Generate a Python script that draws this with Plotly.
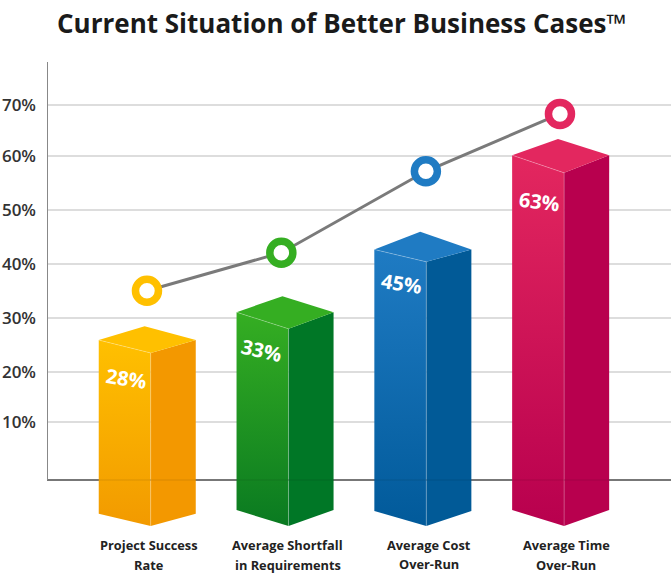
import plotly.graph_objects as go

categories = ["Project Success<br>Rate", "Average Shortfall<br>in Requirements",
              "Average Cost<br>Over-Run", "Average Time<br>Over-Run"]
bar_labels = ["28%", "33%", "45%", "63%"]

# heights, for the corners of each 3D bar
back_top = [28.7, 34.3, 46.3, 63.6]
side_top = [26.1, 31.3, 43.0, 60.6]
front_top = [23.7, 28.2, 40.7, 57.3]
side_bottom = [-6.3, -5.6, -5.8, -5.6]
front_bottom = [-8.6, -8.6, -8.6, -8.6]

line_pos = [-0.027, 0.948, 1.997, 2.97]
line_values = [35.3, 42.4, 57.6, 68.3]

tick_values = [10.8, 20.1, 30.2, 40.3, 50.4, 60.4, 70]
tick_labels = ["10%", "20%", "30%", "40%", "50%", "60%", "70%"]

top_colors = ["#FFC000", "#35AE22", "#1F7BC3", "#E3275F"]
front_bottom_colors = ["#F29A00", "#0A7A21", "#015A9A", "#B8004E"]
side_colors = ["#F39800", "#007726", "#015A97", "#B8004E"]

LEFT, RIGHT, BACK = -0.377, 0.327, -0.044

fig = go.Figure()

for i in range(len(categories)):
    # front face
    fig.add_trace(go.Scatter(
        x=[i + LEFT, i, i, i + LEFT, i + LEFT],
        y=[side_top[i], front_top[i], front_bottom[i], side_bottom[i], side_top[i]],
        mode="lines", line=dict(width=0), fill="toself",
        fillgradient=dict(type="vertical",
                          colorscale=[[0, front_bottom_colors[i]], [1, top_colors[i]]]),
        hoverinfo="skip", showlegend=False))
    # right face
    fig.add_trace(go.Scatter(
        x=[i, i + RIGHT, i + RIGHT, i, i],
        y=[front_top[i], side_top[i], side_bottom[i], front_bottom[i], front_top[i]],
        mode="lines", line=dict(width=0), fill="toself", fillcolor=side_colors[i],
        hoverinfo="skip", showlegend=False))
    # top face
    fig.add_trace(go.Scatter(
        x=[i + LEFT, i + BACK, i + RIGHT, i, i + LEFT],
        y=[side_top[i], back_top[i], side_top[i], front_top[i], side_top[i]],
        mode="lines", line=dict(width=0), fill="toself", fillcolor=top_colors[i],
        hoverinfo="skip", showlegend=False))
    # pale seams
    fig.add_trace(go.Scatter(
        x=[i + LEFT, i, i],
        y=[side_top[i], front_top[i], front_bottom[i]],
        mode="lines", line=dict(width=1, color="rgba(255,255,255,0.25)"),
        hoverinfo="skip", showlegend=False))
    # baseline shows faintly through the bars
    fig.add_trace(go.Scatter(
        x=[i + LEFT, i + RIGHT], y=[0, 0],
        mode="lines", line=dict(width=1.5, color="rgba(0,0,0,0.07)"),
        hoverinfo="skip", showlegend=False))

fig.add_trace(go.Scatter(
    x=line_pos, y=line_values, mode="lines",
    line=dict(color="#7A7A7A", width=3),
    hoverinfo="skip", showlegend=False))
fig.add_trace(go.Scatter(
    x=line_pos, y=line_values, mode="markers",
    marker=dict(size=23, color="white", line=dict(width=7.5, color=top_colors)),
    hoverinfo="skip", showlegend=False))

fig.update_layout(
    width=671, height=574,
    margin=dict(l=0, r=0, t=0, b=0),
    paper_bgcolor="white", plot_bgcolor="white",
    font=dict(family="Open Sans", color="#222222"),
    xaxis=dict(domain=[47 / 671, 1], range=[-0.7525, 3.7758], showgrid=False,
               zeroline=False, showticklabels=False, fixedrange=True),
    yaxis=dict(range=[-17.54, 89.55], tickvals=tick_values, ticktext=tick_labels,
               tickfont=dict(size=17, color="#333333", family="Open Sans SemiBold, Open Sans"),
               ticklabelstandoff=10, ticks="", showgrid=True, gridcolor="#DDDDDD", gridwidth=2,
               zeroline=True, zerolinecolor="#777777", zerolinewidth=2,
               showline=False, fixedrange=True),
    showlegend=False,
)

# y axis line stops above the baseline, so it is a shape
fig.add_shape(type="line", xref="x", yref="y", x0=-0.7525, x1=-0.7525, y0=0, y1=78,
              line=dict(color="#888888", width=2))

fig.add_annotation(text="<b>Current Situation of Better Business Cases™</b>",
                   xref="paper", yref="paper", x=0.509, y=0.96, yanchor="middle", showarrow=False,
                   font=dict(size=26, color="#1A1A1A", family="Open Sans"))

label_x = [-0.179, 0.805, 1.822, 2.818]
label_y = [19.0, 24.07, 36.6, 52.05]
label_angle = [9, 13, 9, 7]
for i, text in enumerate(bar_labels):
    fig.add_annotation(text=f"<b>{text}</b>", x=label_x[i], y=label_y[i], showarrow=False,
                       textangle=label_angle[i], font=dict(size=20, color="white"))

# two separate lines per label: the reference spaces them wider than <br> does
cat_x = [-0.012, 0.996, 2.02, 3.014]
cat_y = [-14.0, -14.0, -13.9, -14.0]
for i, text in enumerate(categories):
    for k, part in enumerate(text.split("<br>")):
        fig.add_annotation(text=f"<b>{part}</b>", x=cat_x[i], y=cat_y[i] + 1.82 - 3.64 * k,
                           yanchor="middle", borderpad=0, showarrow=False,
                           font=dict(size=12.8, color="#222222"))

fig.write_html("out.html", post_script="document.body.style.margin='0'",
               config=dict(displayModeBar=False))
